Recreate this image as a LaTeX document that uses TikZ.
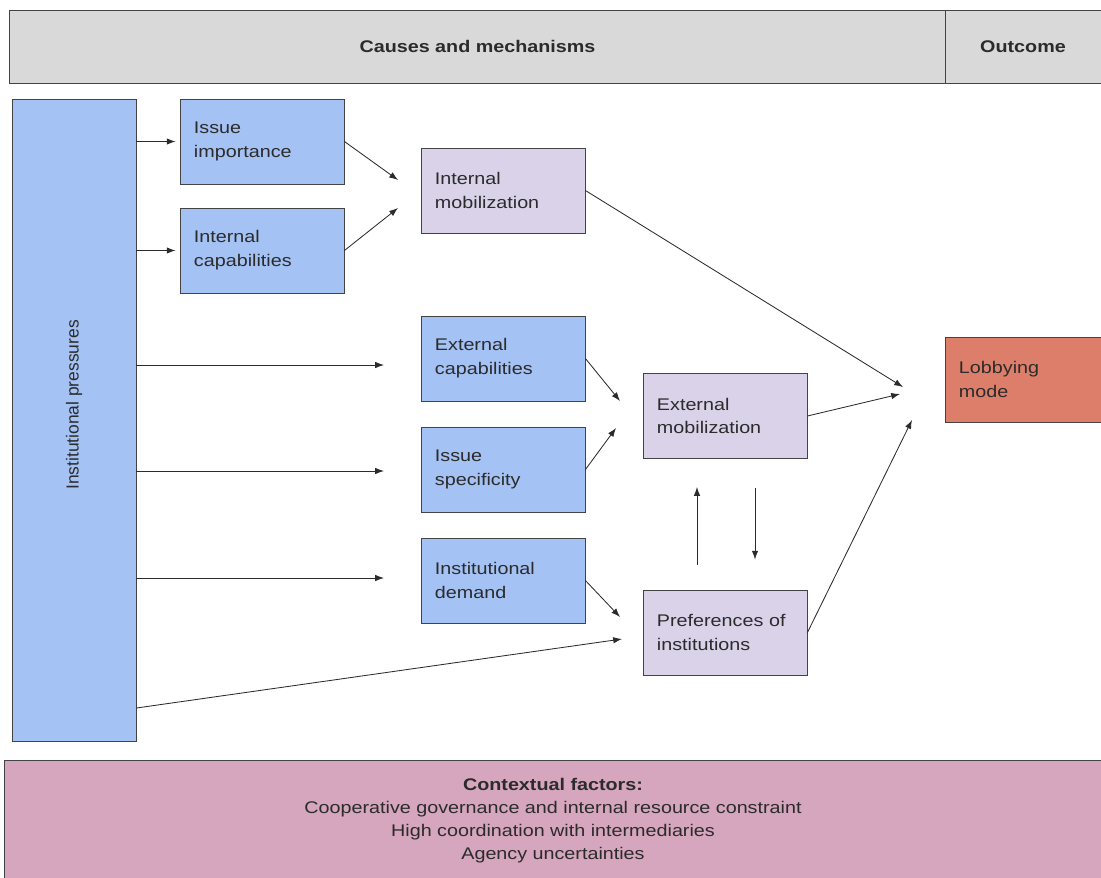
\documentclass[tikz,border=0pt]{standalone}
\usepackage{fontspec}
\setmainfont{Liberation Sans}[FakeStretch=1.17]
\newfontfamily\uprightfont{Liberation Sans}
\usetikzlibrary{arrows.meta,positioning}
\definecolor{headgrey}{HTML}{D9D9D9}
\definecolor{causeblue}{HTML}{A4C2F4}
\definecolor{mechlilac}{HTML}{D9D2E9}
\definecolor{outred}{HTML}{DD7E6B}
\definecolor{ctxpink}{HTML}{D5A6BD}
\definecolor{boxline}{HTML}{434343}
\definecolor{inkgrey}{HTML}{2B2B2B}
\newcommand{\diagfont}{\fontsize{12}{17}\selectfont}
\newcommand{\ctxfont}{\fontsize{12}{16.4}\selectfont}

\begin{document}
\begin{tikzpicture}[x=0.025cm,y=-0.025cm]
\tikzset{
  basebox/.style={draw=boxline,line width=0.6pt,inner sep=0pt,font=\diagfont,text=inkgrey},
  headbox/.style={basebox,fill=headgrey,font=\diagfont\bfseries},
  causebox/.style={basebox,fill=causeblue,minimum width=4.1cm,minimum height=2.125cm,text width=3.4cm,align=left},
  mechbox/.style={causebox,fill=mechlilac},
  outbox/.style={causebox,fill=outred,minimum width=3.9cm,text width=3.2cm},
  ctxbox/.style={basebox,fill=ctxpink,align=center,font=\ctxfont},
  flow/.style={-{Latex[length=2.2mm,width=1.6mm]},line width=0.6pt,draw=inkgrey}
}
\useasboundingbox (0,0) rectangle (1101,877);
% header row
\node[headbox,minimum width=23.375cm,minimum height=1.825cm] (n_head) at (477.5,46.5) {Causes and mechanisms};
\node[headbox,minimum width=3.9cm,minimum height=1.825cm] (n_outcome) at (1023,46.5) {Outcome};
% causes
\node[basebox,fill=causeblue,minimum width=3.1cm,minimum height=16.05cm] (n_IP) at (74,420) {};
\node[rotate=90,font=\uprightfont\fontsize{12.4}{15}\selectfont,text=inkgrey] (n_IPtext) at (74,405) {Institutional pressures};
\node[causebox] (n_imp) at (262,141.5) {Issue\\importance};
\node[causebox] (n_intcap) at (262,250.5) {Internal\\capabilities};
\node[causebox] (n_extcap) at (503,358.5) {External\\capabilities};
\node[causebox] (n_spec) at (503,469.5) {Issue\\specificity};
\node[causebox] (n_demand) at (503,580.5) {Institutional\\demand};
% mechanisms
\node[mechbox] (n_intmob) at (503,190.5) {Internal\\mobilization};
\node[mechbox] (n_extmob) at (725,416) {External\\mobilization};
\node[mechbox] (n_pref) at (725,632.5) {Preferences of\\institutions};
% outcome
\node[outbox] (n_lobby) at (1023,379.5) {Lobbying\\mode};
% context
\node[ctxbox,minimum width=27.4cm,minimum height=3.05cm] (n_context) at (553,821) {\textbf{Contextual factors:}\\Cooperative governance and internal resource constraint\\High coordination with intermediaries\\Agency uncertainties};
% arrow tips
\coordinate (t_mob1) at (398,180);
\coordinate (t_mob2) at (398,208);
\coordinate (t_lob1) at (903,387);
\coordinate (t_lob2) at (900,394);
\coordinate (t_lob3) at (912,420);
\coordinate (t_h1) at (384,365);
\coordinate (t_h2) at (384,471);
\coordinate (t_h3) at (384,578);
\coordinate (t_em1) at (620,401);
\coordinate (t_em2) at (616,428);
\coordinate (t_pf1) at (620,617);
\coordinate (t_pf2) at (622,639);
\draw[flow,shorten >=0.1cm] (n_IP.east |- n_imp.west) -- (n_imp.west);
\draw[flow,shorten >=0.1cm] (n_IP.east |- n_intcap.west) -- (n_intcap.west);
\draw[flow] (n_imp.east) -- (t_mob1);
\draw[flow] (n_intcap.east) -- (t_mob2);
\draw[flow] (n_intmob.east) -- (t_lob1);
\draw[flow] (n_IP.east |- t_h1) -- (t_h1);
\draw[flow] (n_IP.east |- t_h2) -- (t_h2);
\draw[flow] (n_IP.east |- t_h3) -- (t_h3);
\draw[flow] (n_IP.east |- 0,708) -- (t_pf2);
\draw[flow] (n_extcap.east) -- (t_em1);
\draw[flow] (n_spec.east) -- (t_em2);
\draw[flow] (n_demand.east) -- (t_pf1);
\draw[flow] (n_extmob.east) -- (t_lob2);
\draw[flow] (n_pref.east) -- (t_lob3);
\draw[flow,shorten <=0.625cm,shorten >=0.7cm] ([xshift=-0.7cm]n_pref.north) -- ([xshift=-0.7cm]n_extmob.south);
\draw[flow,shorten <=0.725cm,shorten >=0.75cm] ([xshift=0.75cm]n_extmob.south) -- ([xshift=0.75cm]n_pref.north);
\end{tikzpicture}
\end{document}
